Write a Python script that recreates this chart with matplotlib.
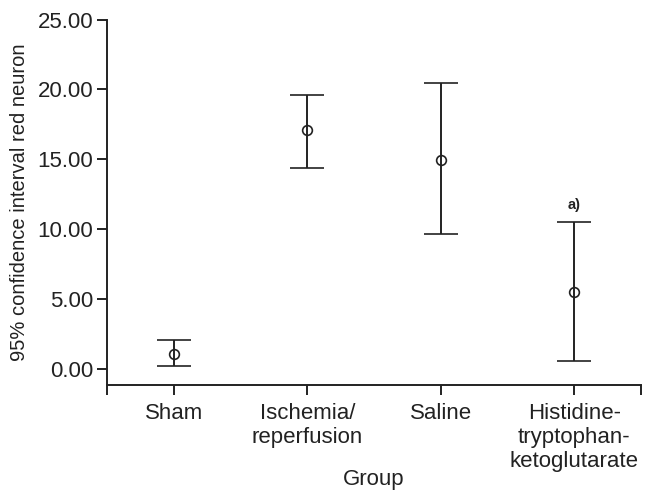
import matplotlib.pyplot as plt
import numpy as np

plt.rcParams['font.family'] = ['Liberation Sans', 'DejaVu Sans']

groups = ["Sham", "Ischemia/\nreperfusion", "Saline", "Histidine-\ntryptophan-\nketoglutarate"]
means = [1.05, 17.07, 14.98, 5.52]
lower = [0.19, 14.38, 9.64, 0.59]
upper = [2.07, 19.62, 20.43, 10.48]
yticks = [0, 5, 10, 15, 20, 25]

col = "#222222"
fig = plt.figure(figsize=(6.54, 5.01), dpi=100)
ax = fig.add_axes([0.1636, 0.2315, 0.8165, 0.7295])

x = np.arange(1, len(groups) + 1)
m = np.array(means)
err = [m - np.array(lower), np.array(upper) - m]
ax.errorbar(x, m, yerr=err, fmt="o", color=col, ecolor=col, elinewidth=1.4,
            capsize=12.3, capthick=1.4, markersize=7, markerfacecolor="none",
            markeredgecolor=col, markeredgewidth=1.2, zorder=3)

# significance mark above the last group
ax.text(x[3], upper[3] + 0.75, "a)", ha="center", va="bottom", fontsize=10.5,
        fontweight="bold", color=col)

ax.set_xlim(0.5, 4.5)
ax.set_ylim(-1.15, 25)
ax.set_xticks(x)
ax.set_xticklabels(groups, fontsize=16, linespacing=1.2)
ax.set_xticks([0.5, 4.5], minor=True)
ax.set_yticks(yticks)
ax.set_yticklabels([f"{v:.2f}" for v in yticks], fontsize=16)
ax.tick_params(which="both", direction="out", length=7, width=1.4, color=col, labelcolor=col)
ax.tick_params(axis="x", pad=6)
ax.tick_params(axis="y", pad=3)

for s in ["top", "right"]:
    ax.spines[s].set_visible(False)
for s in ["left", "bottom"]:
    ax.spines[s].set_linewidth(1.4)
    ax.spines[s].set_color(col)

ax.set_xlabel("Group", fontsize=16, color=col, labelpad=-2.5)
ax.set_ylabel("95% confidence interval red neuron", fontsize=14.5, color=col, labelpad=6)

fig.savefig("out.png", dpi=100)
